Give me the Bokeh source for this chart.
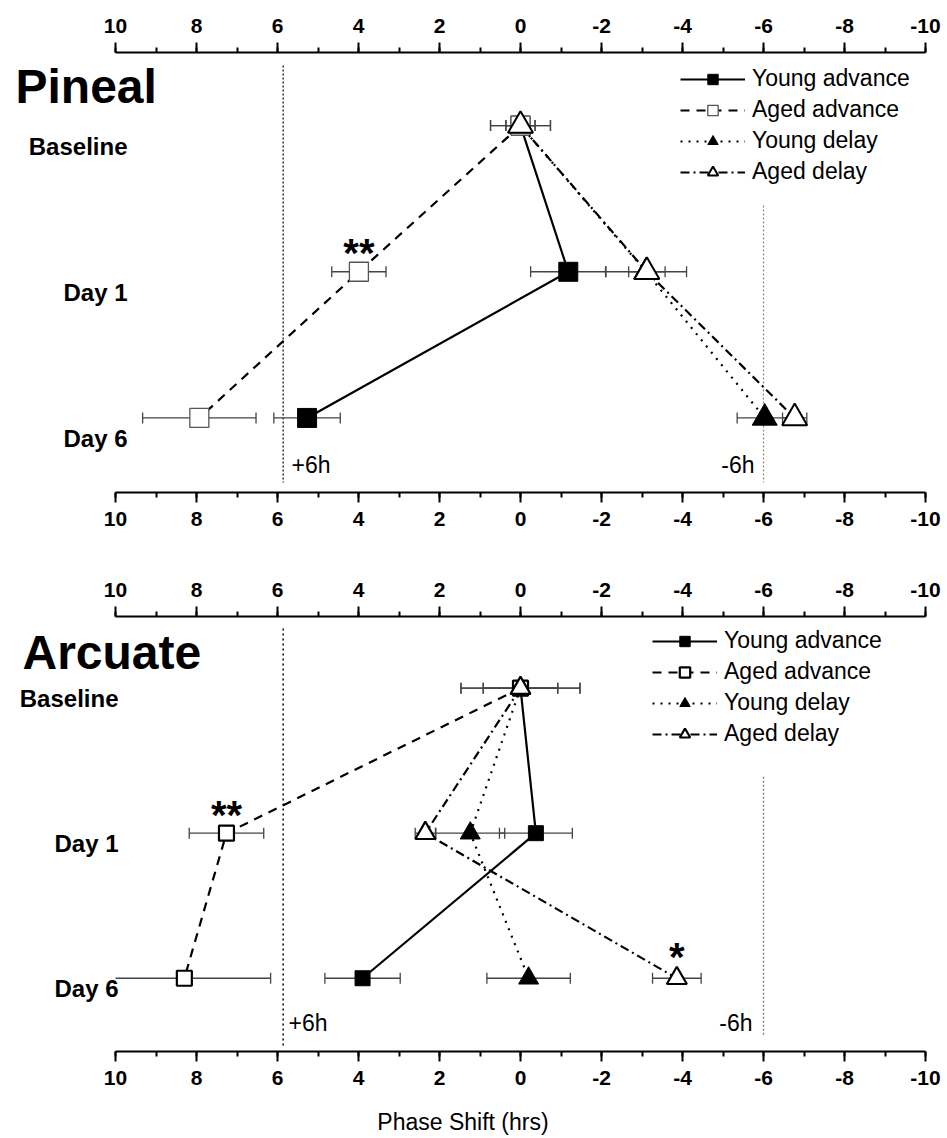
import math
from bokeh.plotting import figure
from bokeh.models import Range1d, LinearAxis, FixedTicker, Label, Legend, LegendItem
from bokeh.layouts import column
from bokeh.embed import file_html
from bokeh.resources import INLINE

# ---------------- data ----------------
rows = ["Baseline", "Day 1", "Day 6"]
row_pos = [0, 1, 2]
series = ["Young advance", "Aged advance", "Young delay", "Aged delay"]

pineal_young_advance = [0.0, -1.18, 5.27]
pineal_young_advance_sem = [0.36, 0.93, 0.82]
pineal_aged_advance = [0.0, 3.99, 7.93]
pineal_aged_advance_sem = [0.74, 0.67, 1.40]
pineal_young_delay = [0.0, -3.10, -6.03]
pineal_young_delay_sem = [0.36, 1.00, 0.68]
pineal_aged_delay = [0.0, -3.12, -6.77]
pineal_aged_delay_sem = [0.74, 0.45, 0.30]

arcuate_young_advance = [0.0, -0.38, 3.90]
arcuate_young_advance_sem = [0.92, 0.90, 0.93]
arcuate_aged_advance = [0.0, 7.26, 8.30]
arcuate_aged_advance_sem = [1.47, 0.92, 2.13]
arcuate_young_delay = [0.0, 1.24, -0.20]
arcuate_young_delay_sem = [0.92, 0.85, 1.03]
arcuate_aged_delay = [0.0, 2.35, -3.86]
arcuate_aged_delay_sem = [1.47, 0.25, 0.60]

pineal_signif = [("Aged advance", 1, "**")]
arcuate_signif = [("Aged advance", 1, "**"), ("Aged delay", 2, "*")]

x_ticks = [10, 8, 6, 4, 2, 0, -2, -4, -6, -8, -10]
x_tick_labels = ["10", "8", "6", "4", "2", "0", "-2", "-4", "-6", "-8", "-10"]
x_minor_ticks = list(range(-10, 11))
shift_lines = [5.86, -6.0]
shift_labels = ["+6h", "-6h"]
x_label = "Phase Shift (hrs)"

# ---------------- styles / layout ----------------
FONT = "Liberation Sans"
STYLE = {
    "Young advance": dict(dash="solid", marker="square", fill="black"),
    "Aged advance": dict(dash="9 7", marker="square", fill="white"),
    "Young delay": dict(dash="2 6", marker="triangle", fill="black"),
    "Aged delay": dict(dash="9 4 2 4", marker="triangle", fill="white"),
}

FIG_W = 947
FRAME_RIGHT_PX = 925.0   # page x of -10
AXIS_LEFT_PX = 115.0     # page x of +10
X_MAX = max(x_ticks)
X_MIN = min(x_ticks)
PX_PER_X = (FRAME_RIGHT_PX - AXIS_LEFT_PX) / (X_MAX - X_MIN)
X_START = X_MIN + FRAME_RIGHT_PX / PX_PER_X   # data value at page x = 0


def xd(px):
    """page pixel -> data x (reversed axis)"""
    return X_MAX - (px - AXIS_LEFT_PX) / PX_PER_X


def make_panel(title, data, signif, cfg):
    p = figure(width=FIG_W, height=cfg["h"],
               x_range=Range1d(X_START, X_MIN), y_range=Range1d(cfg["ybot"], cfg["ytop"]),
               output_backend="svg", toolbar_location=None,
               x_axis_location=None, y_axis_location=None,
               min_border_left=0, min_border_right=int(FIG_W - FRAME_RIGHT_PX),
               min_border_top=cfg["mt"], min_border_bottom=cfg["mb"])
    p.outline_line_color = None
    p.grid.visible = False
    p.background_fill_color = "white"
    p.border_fill_color = "white"

    unit = (cfg["h"] - cfg["mt"] - cfg["mb"]) / (cfg["ybot"] - cfg["ytop"])
    ftop = cfg["page_top"] + cfg["mt"]

    def yd(py):
        return (py - ftop) / unit + cfg["ytop"]

    axes = {}
    for loc in ("above", "below"):
        ax = LinearAxis(ticker=FixedTicker(ticks=x_ticks, minor_ticks=x_minor_ticks),
                        bounds=(X_MIN, X_MAX))
        ax.major_label_overrides = dict(zip(x_ticks, x_tick_labels))
        ax.major_tick_out = 10
        ax.major_tick_in = 0
        ax.minor_tick_out = 5
        ax.minor_tick_in = 0
        ax.axis_line_width = 2
        ax.axis_line_color = "black"
        ax.major_tick_line_color = "black"
        ax.minor_tick_line_color = "black"
        ax.major_tick_line_width = 2
        ax.minor_tick_line_width = 2
        ax.major_label_text_font = FONT
        ax.major_label_text_font_style = "bold"
        ax.major_label_text_font_size = "21px"
        ax.major_label_text_color = "black"
        ax.major_label_standoff = cfg["standoff"][loc]
        p.add_layout(ax, loc)
        axes[loc] = ax

    # reference shift lines
    for k, (xv, lab) in enumerate(zip(shift_lines, shift_labels)):
        y0, y1 = cfg["ref_y"][k]
        p.segment(x0=[xv], x1=[xv], y0=[yd(y0)], y1=[yd(y1)],
                  line_color=cfg["ref_color"][k], line_width=cfg["ref_width"][k],
                  line_dash=cfg["ref_dash"][k])
        lx, align = cfg["ref_lab_x"][k]
        p.add_layout(Label(x=xd(lx), y=yd(cfg["ref_lab_y"]), text=lab,
                           text_font=FONT, text_font_size="23px", text_align=align,
                           text_baseline="middle", text_color="black"))

    # error bars (clipped at the axis bounds, like the original)
    for name in series:
        vals, errs = data[name]
        lo = [v - e for v, e in zip(vals, errs)]
        hi = [v + e for v, e in zip(vals, errs)]
        lo_d = [max(a, X_MIN) for a in lo]
        hi_d = [min(b, X_MAX) for b in hi]
        p.segment(x0=lo_d, x1=hi_d, y0=row_pos, y1=row_pos,
                  line_color=cfg["err_color"], line_width=1.3)
        cx, cy = [], []
        for a, b, r in zip(lo, hi, row_pos):
            if a >= X_MIN:
                cx.append(a); cy.append(r)
            if b <= X_MAX:
                cx.append(b); cy.append(r)
        p.scatter(x=cx, y=cy, marker="dash", angle=math.pi / 2,
                  size=11, line_color=cfg["err_color"], line_width=1.3)

    # lines and markers
    items = []
    for name in series:
        vals, errs = data[name]
        st = STYLE[name]
        lr = p.line(x=vals, y=row_pos, line_color="black", line_width=2.2,
                    line_dash=st["dash"])
        size = cfg["sq_size"] if st["marker"] == "square" else cfg["tri_size"]
        if st["fill"] == "white":
            lc, lw = cfg["open_line"][name]
        else:
            lc, lw = "black", 1
        sr = p.scatter(x=vals, y=row_pos, marker=st["marker"], size=size,
                       fill_color=st["fill"], line_color=lc, line_width=lw)
        items.append(LegendItem(label=name, renderers=[lr, sr]))

    leg = Legend(items=items, location=cfg["legend_loc"], glyph_width=65,
                 glyph_height=26, spacing=4, label_standoff=7, padding=0, margin=0,
                 border_line_color=None, background_fill_alpha=0,
                 label_text_font=FONT, label_text_font_size="23px",
                 label_text_color="black")
    p.add_layout(leg)

    # significance stars
    for (name, r, txt), dy in zip(signif, cfg["star_dy"]):
        xv = data[name][0][r]
        p.add_layout(Label(x=xv, y=r - dy / unit, text=txt,
                           text_font=FONT, text_font_style="bold",
                           text_font_size="40px", text_align="center",
                           text_baseline="middle", text_color="black"))

    # title and row labels
    p.add_layout(Label(x=xd(cfg["title_x"]), y=yd(cfg["title_y"]), text=title,
                       text_font=FONT, text_font_style="bold", text_font_size="48px",
                       text_align="left", text_baseline="middle", text_color="black"))
    for r, lab in zip(row_pos, rows):
        p.add_layout(Label(x=xd(cfg["row_lab_x"]), y=r + cfg["row_lab_dy"] / unit,
                           text=lab, text_font=FONT, text_font_style="bold",
                           text_font_size="24px", text_align="right",
                           text_baseline="middle", text_color="black"))
    return p, axes


pineal_data = {
    "Young advance": (pineal_young_advance, pineal_young_advance_sem),
    "Aged advance": (pineal_aged_advance, pineal_aged_advance_sem),
    "Young delay": (pineal_young_delay, pineal_young_delay_sem),
    "Aged delay": (pineal_aged_delay, pineal_aged_delay_sem),
}
arcuate_data = {
    "Young advance": (arcuate_young_advance, arcuate_young_advance_sem),
    "Aged advance": (arcuate_aged_advance, arcuate_aged_advance_sem),
    "Young delay": (arcuate_young_delay, arcuate_young_delay_sem),
    "Aged delay": (arcuate_aged_delay, arcuate_aged_delay_sem),
}

cfg_top = dict(h=552, mt=52, mb=60, page_top=0, ytop=-0.5, ybot=2.51,
               standoff={"above": 10, "below": 9},
               ref_y=[(65, 482), (205, 482)], ref_color=["black", "#888888"],
               ref_width=[1.2, 1.2], ref_dash=["2 2", "2 2"],
               ref_lab_x=[(291, "left"), (754, "right")], ref_lab_y=464,
               err_color="#444444", sq_size=19, tri_size=25,
               open_line={"Aged advance": ("#555555", 1.3), "Aged delay": ("black", 2)},
               legend_loc=(680, 307), star_dy=[19], title_x=15, title_y=86,
               row_lab_x=127, row_lab_dy=21)
cfg_bot = dict(h=585, mt=64, mb=84, page_top=552, ytop=-0.494, ybot=2.505,
               standoff={"above": 10, "below": 9},
               ref_y=[(628, 1050), (777, 1038)], ref_color=["black", "#777777"],
               ref_width=[1.5, 1.3], ref_dash=["2 3", "2 2"],
               ref_lab_x=[(288, "left"), (752, "right")], ref_lab_y=1024,
               err_color="#444444", sq_size=15, tri_size=20,
               open_line={"Aged advance": ("black", 2.2), "Aged delay": ("black", 2.2)},
               legend_loc=(652, 304), star_dy=[18, 21], title_x=22, title_y=652,
               row_lab_x=118, row_lab_dy=10)

p1, _ = make_panel("Pineal", pineal_data, pineal_signif, cfg_top)
p2, axes2 = make_panel("Arcuate", arcuate_data, arcuate_signif, cfg_bot)
axes2["below"].axis_label = x_label
axes2["below"].axis_label_text_font = FONT
axes2["below"].axis_label_text_font_style = "normal"
axes2["below"].axis_label_text_font_size = "23px"
axes2["below"].axis_label_text_color = "black"
axes2["below"].axis_label_standoff = 21

layout = column(p1, p2, spacing=0)
open("out.html", "w").write(file_html(layout, INLINE))
